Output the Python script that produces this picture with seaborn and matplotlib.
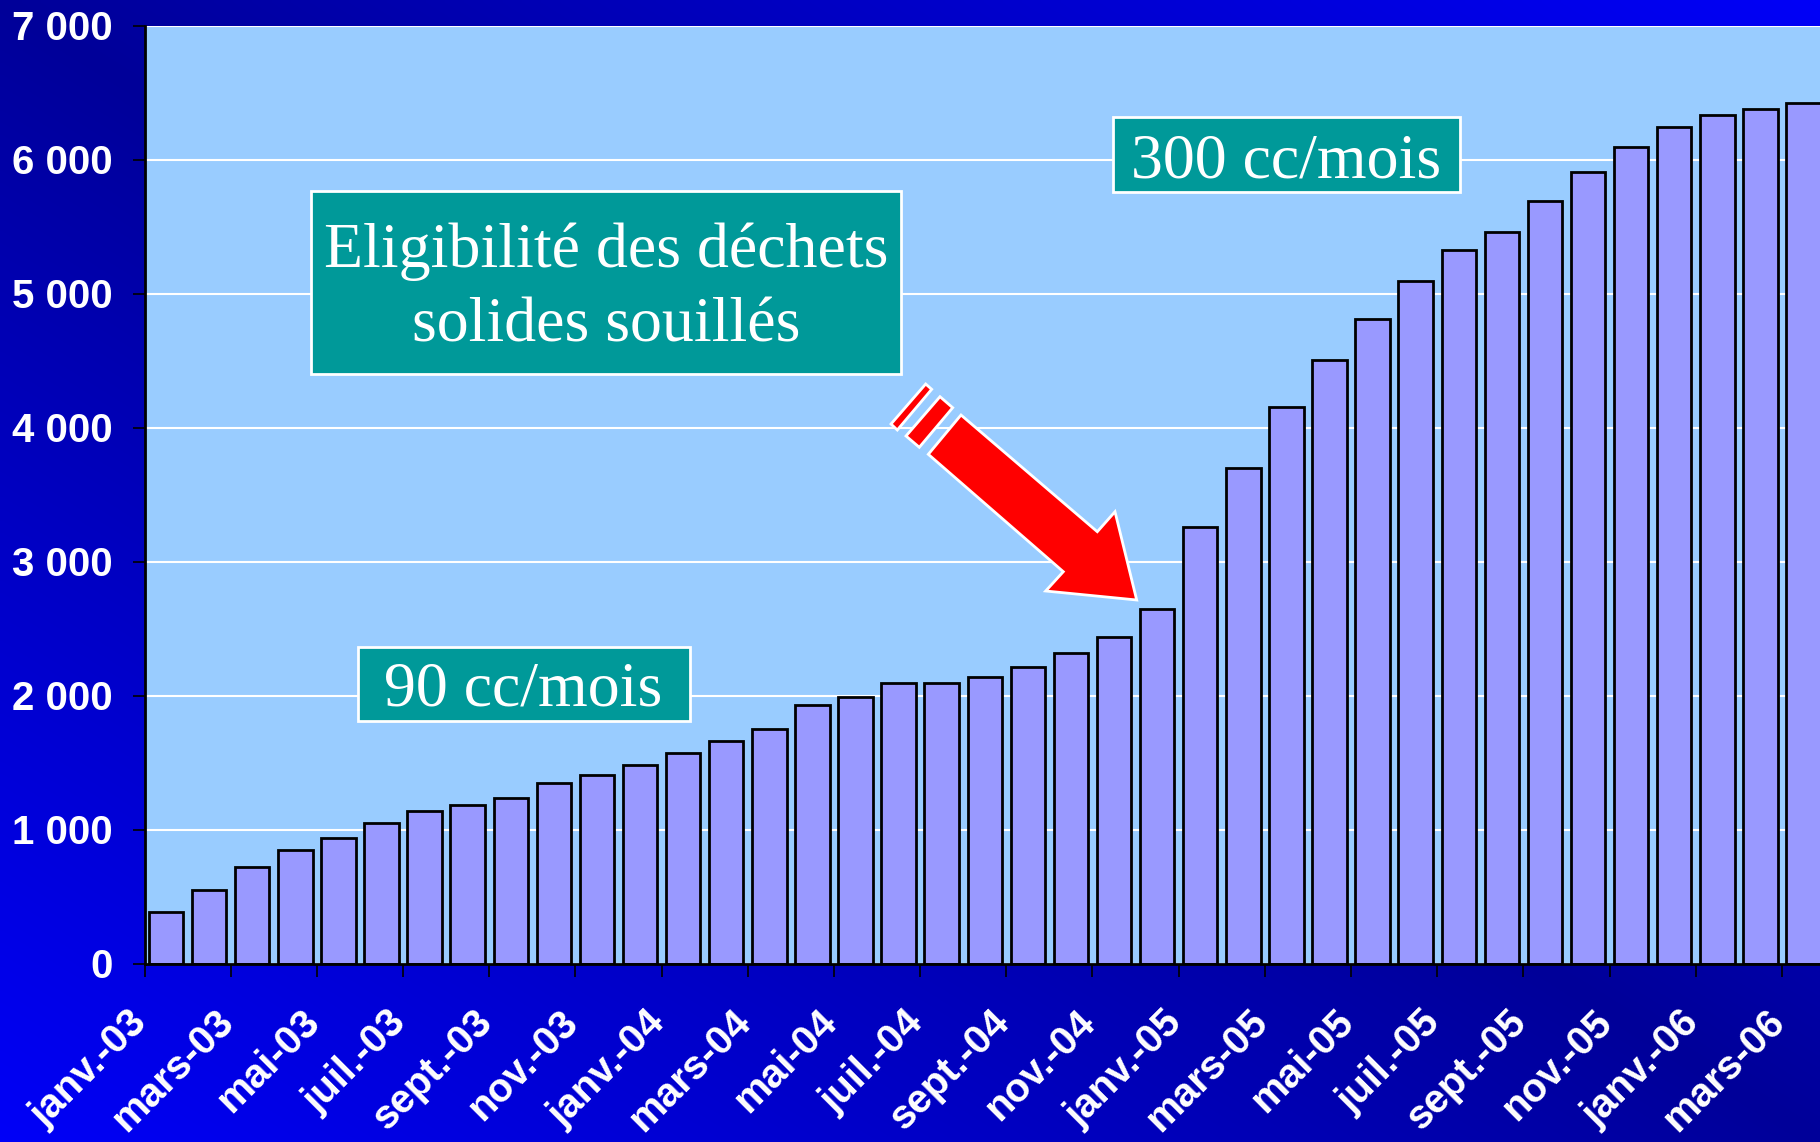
import numpy as np
import pandas as pd
import matplotlib
matplotlib.use("Agg")
import matplotlib.pyplot as plt
import seaborn as sns
from matplotlib.patches import Polygon, Rectangle
from matplotlib.transforms import ScaledTranslation

# ---------------- data ----------------
month_names = ["janv.", "févr.", "mars", "avr.", "mai", "juin",
               "juil.", "août", "sept.", "oct.", "nov.", "déc."]
years = ["03", "04", "05", "06"]
categories = [f"{m}-{y}" for y in years for m in month_names][:39]
values = [386, 551, 718, 850, 938, 1045, 1137, 1180, 1237, 1347, 1407, 1479,
          1572, 1659, 1749, 1929, 1991, 2094, 2094, 2139, 2213, 2318, 2438, 2648,
          3254, 3701, 4152, 4507, 4806, 5090, 5328, 5460, 5687, 5910, 6090,
          6240, 6332, 6377, 6422]
tick_labels = ["janv.-03", "mars-03", "mai-03", "juil.-03", "sept.-03", "nov.-03",
               "janv.-04", "mars-04", "mai-04", "juil.-04", "sept.-04", "nov.-04",
               "janv.-05", "mars-05", "mai-05", "juil.-05", "sept.-05", "nov.-05",
               "janv.-06", "mars-06"]
y_ticks = [0, 1000, 2000, 3000, 4000, 5000, 6000, 7000]
box_main = "Eligibilité des déchets\nsolides souillés"
box_high = "300 cc/mois"
box_low = "90 cc/mois"

df = pd.DataFrame({"mois": categories, "valeur": values})

# ---------------- style ----------------
sns.set_style("white")
plt.rcParams["font.family"] = ["Liberation Sans", "DejaVu Sans"]

W, H = 1820, 1142
fig = plt.figure(figsize=(W / 100, H / 100), dpi=100)


def px(x, y):
    """full-size pixel position -> figure fraction"""
    return x / W, 1 - y / H


# background gradient
bg = fig.add_axes([0, 0, 1, 1], zorder=-10)
gx, gy = np.meshgrid(np.linspace(0, 1, 400), np.linspace(0, 1, 250))
t = np.abs(gx - gy)
dark = np.array([0, 0, 0.60])
bright = np.array([0, 0, 0.97])
img = dark[None, None, :] + t[..., None] * (bright - dark)[None, None, :]
bg.imshow(img, aspect="auto", extent=[0, 1, 1, 0], interpolation="bilinear")
bg.set_axis_off()

# plot axes
left, top, bottom, right = 144.5, 25.5, 963.5, 1825
ax = fig.add_axes([left / W, 1 - bottom / H, (right - left) / W, (bottom - top) / H])
ax.set_facecolor("#99CCFF")

sns.barplot(data=df, x="mois", y="valeur", color="#9999FF", saturation=1,
            edgecolor="black", linewidth=2, width=0.8, ax=ax, zorder=3)

ax.set_xlim(-0.5, len(values) - 0.5)
ax.set_ylim(0, 7000)
ax.set_yticks(y_ticks)
ax.set_yticklabels([f"{v:,}".replace(",", " ") for v in y_ticks])
ax.yaxis.grid(True, color="white", linewidth=1.5, zorder=0)
ax.set_axisbelow(True)

xt = [i - 0.5 for i in range(0, len(values), 2)]
ax.set_xticks(xt)
ax.set_xticklabels(tick_labels)
ax.set_xlabel("")
ax.set_ylabel("")

for s in ["top", "right"]:
    ax.spines[s].set_visible(False)
for s in ["left", "bottom"]:
    ax.spines[s].set_color("black")
    ax.spines[s].set_linewidth(2)
    ax.spines[s].set_zorder(5)

ax.tick_params(axis="y", direction="out", length=9, width=1.2, color="black",
               pad=14, labelsize=29, labelcolor="white", left=True)
ax.tick_params(axis="x", direction="out", length=9, width=1.2, color="black",
               pad=29, labelsize=29, labelcolor="white", bottom=True)
for lab in ax.get_yticklabels():
    lab.set_fontweight("bold")
offset = ScaledTranslation(-3 / 100, 0, fig.dpi_scale_trans)
for lab in ax.get_xticklabels():
    lab.set_fontweight("bold")
    lab.set_rotation(45)
    lab.set_ha("right")
    lab.set_va("center")
    lab.set_rotation_mode("anchor")
    lab.set_transform(lab.get_transform() + offset)

# ---------------- annotations ----------------
serif = ["Liberation Serif", "DejaVu Serif"]


def box(x0, y0, x1, y1, text, ty=None, ls=1.12):
    (fx0, fy1), (fx1, fy0) = px(x0, y0), px(x1, y1)
    fig.patches.append(Rectangle((fx0, fy0), fx1 - fx0, fy1 - fy0,
                                 transform=fig.transFigure, facecolor="#009999",
                                 edgecolor="white", linewidth=2, zorder=20))
    cx, cy = px((x0 + x1) / 2, ty if ty is not None else (y0 + y1) / 2)
    fig.text(cx, cy, text, ha="center", va="center", color="white",
             fontsize=46, family=serif, linespacing=ls, zorder=21)


box(311, 191, 901, 374, box_main, ty=289, ls=1.37)
box(1113, 117, 1460, 192, box_high, ty=163)
box(357.5, 646.5, 689.5, 721, box_low, ty=691)

arrow_pts = [(961, 415), (1097.3, 531.7), (1115, 511.7), (1136.7, 600),
             (1045.7, 591), (1063.3, 571.7), (928.3, 454.3)]
stripe1 = [(925.7, 384), (931.7, 389.3), (897.3, 430), (891, 424)]
stripe2 = [(940, 396.7), (952.7, 407.7), (919.3, 447.3), (906, 436)]
for pts in (arrow_pts, stripe1, stripe2):
    fig.patches.append(Polygon([px(x, y) for x, y in pts], closed=True,
                               transform=fig.transFigure, facecolor="#FF0000",
                               edgecolor="white", linewidth=2, zorder=22))

fig.savefig("out.png", dpi=100)
